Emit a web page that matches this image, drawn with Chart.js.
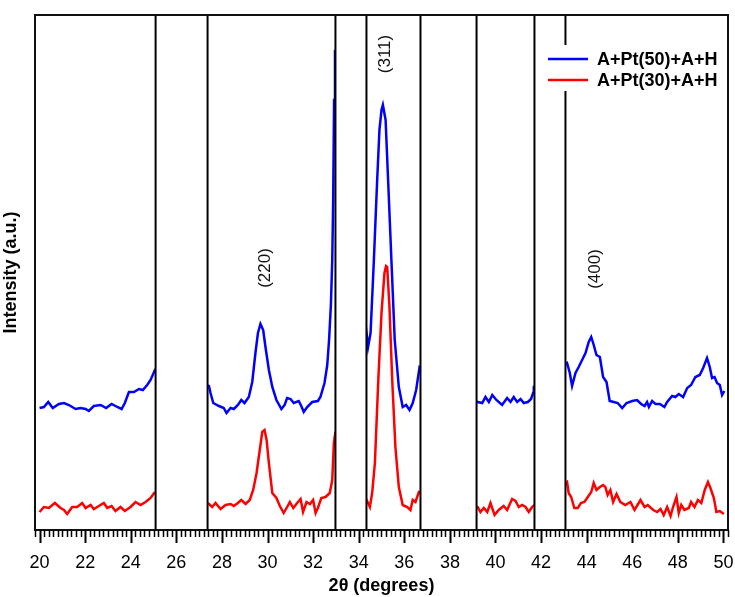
<!DOCTYPE html>
<html>
<head>
<meta charset="utf-8">
<script src="https://cdn.jsdelivr.net/npm/chart.js@4/dist/chart.umd.min.js"></script>
<style>
  body { margin: 0; background: #fff; }
  #wrap { width: 735px; height: 597px; }
</style>
</head>
<body>
<div id="wrap"><canvas id="xrd"></canvas></div>
<script>
// 2-theta positions and intensities (a.u.)
var blueAngle = [20.0,20.19,20.38,20.58,20.85,21.07,21.29,21.58,21.80,22.02,22.16,22.38,22.68,22.92,23.16,23.41,23.60,23.74,23.92,24.14,24.36,24.53,24.72,24.87,25.06,
  27.43,27.50,27.62,27.87,28.08,28.20,28.38,28.52,28.70,28.85,28.99,29.18,29.33,29.47,29.58,29.69,29.81,29.91,30.06,30.21,30.39,30.61,30.75,30.86,31.01,31.15,31.37,31.48,31.59,31.74,31.96,32.21,32.32,32.50,32.62,32.70,32.78,32.84,32.88,32.92,32.96,
  34.41,34.52,34.66,34.81,34.91,35.0,35.06,35.18,35.29,35.44,35.58,35.76,35.93,36.08,36.23,36.37,36.52,36.67,
  39.22,39.42,39.56,39.71,39.86,40.04,40.29,40.51,40.66,40.80,40.95,41.10,41.24,41.42,41.56,41.65,41.68,
  43.14,43.26,43.36,43.51,43.65,43.80,43.95,44.09,44.20,44.31,44.43,44.58,44.72,44.87,45.01,45.19,45.36,45.56,45.75,46.0,46.21,46.39,46.54,46.65,46.73,46.87,47.02,47.21,47.41,47.53,47.75,47.89,48.04,48.23,48.41,48.58,48.77,48.96,49.11,49.28,49.40,49.50,49.61,49.72,49.84,49.94,50.04];
var blueIntensity = [122,123,128,122,126,127,125,121,122,121,119,124,125,122,126,123,121,127,138,138,141,140,145,150,160,
  144,137,127,124,122,117,122,121,125,130,127,133,148,177,197,206,200,183,160,143,130,121,125,132,131,127,129,124,118,123,128,129,133,147,165,190,225,270,330,430,480,
  183,197,267,350,400,420,425,410,350,267,190,143,123,125,120,127,140,163,
  128,127,133,128,135,130,125,132,128,133,128,131,127,128,131,137,143,
  167,157,144,157,163,170,177,188,193,185,175,173,153,148,129,128,127,122,127,129,130,126,124,128,123,129,126,126,123,128,134,133,136,133,142,145,153,155,162,172,163,152,153,147,145,135,139];

var redAngle = [20.0,20.19,20.41,20.67,20.92,21.07,21.21,21.43,21.65,21.87,22.02,22.24,22.38,22.60,22.82,22.97,23.16,23.33,23.55,23.74,23.99,24.21,24.43,24.65,24.87,25.03,
  27.43,27.57,27.72,27.94,28.16,28.38,28.52,28.70,28.85,29.04,29.22,29.37,29.52,29.66,29.77,29.87,29.96,30.06,30.21,30.39,30.54,30.71,30.86,30.98,31.13,31.30,31.45,31.56,31.71,31.86,32.0,32.11,32.21,32.36,32.54,32.73,32.84,32.91,32.96,
  34.41,34.49,34.59,34.71,34.86,35.0,35.13,35.20,35.25,35.35,35.47,35.61,35.76,35.93,36.13,36.27,36.37,36.49,36.64,
  39.22,39.34,39.49,39.64,39.78,39.96,40.14,40.36,40.51,40.73,40.88,41.02,41.17,41.32,41.46,41.61,
  43.14,43.21,43.32,43.46,43.61,43.75,43.90,44.02,44.20,44.31,44.43,44.58,44.72,44.82,44.92,45.04,45.16,45.31,45.48,45.70,45.92,46.10,46.36,46.54,46.68,46.92,47.09,47.24,47.38,47.53,47.68,47.79,47.94,48.04,48.15,48.29,48.48,48.58,48.73,48.88,49.03,49.18,49.32,49.43,49.58,49.69,49.84,50.02];
var redIntensity = [18,23,22,27,22,20,16,23,23,27,22,25,21,24,27,22,24,19,23,19,23,28,25,28,32,37,
  26,23,27,21,25,26,24,27,30,26,30,40,57,80,98,100,90,67,37,32,24,17,23,28,22,27,31,18,28,26,30,17,22,32,33,37,50,87,95,
  27,23,37,67,150,217,257,264,263,223,150,83,43,25,23,20,30,28,38,
  23,18,22,18,27,15,20,24,20,31,29,23,25,23,18,23,
  48,37,33,22,22,27,28,32,38,47,40,43,45,43,35,40,28,36,28,25,28,20,30,23,25,20,18,21,15,23,14,23,33,17,25,20,22,28,23,30,27,40,48,42,32,18,19,16];

var seriesNames = ['A+Pt(50)+A+H', 'A+Pt(30)+A+H'];

// regions blanked out by the broken-axis boxes
var bandStart = [25.09, 32.98, 36.71, 41.71];
var bandEnd   = [27.37, 34.34, 39.17, 43.07];

// reflection labels
var peakLabels = ['(220)', '(311)', '(400)'];
var peakAngle  = [29.91, 35.18, 44.39];
var peakLevel  = [262, 476, 261];

function toPoints(xs, ys) {
  return xs.map(function (v, i) { return {x: v, y: ys[i]}; });
}

function isMajor(v) {
  return Math.abs(v / 2 - Math.round(v / 2)) < 1e-6;
}
function onGrid(v) {
  return Math.abs(v * 5 - Math.round(v * 5)) < 1e-6;
}

var xrdDecor = {
  id: 'xrdDecor',
  afterDatasetsDraw: function (chart) {
    var ctx = chart.ctx, a = chart.chartArea, x = chart.scales.x, y = chart.scales.y;
    ctx.save();

    // white boxes with black sides
    ctx.lineWidth = 2;
    ctx.strokeStyle = '#000';
    for (var i = 0; i < bandStart.length; i++) {
      var l = x.getPixelForValue(bandStart[i]), r = x.getPixelForValue(bandEnd[i]);
      ctx.fillStyle = '#fff';
      ctx.fillRect(l, a.top, r - l, a.bottom - a.top);
      ctx.beginPath();
      ctx.moveTo(l, a.top); ctx.lineTo(l, a.bottom);
      ctx.moveTo(r, a.top); ctx.lineTo(r, a.bottom);
      ctx.stroke();
    }

    // frame
    ctx.strokeStyle = '#111';
    ctx.strokeRect(a.left, a.top, a.right - a.left, a.bottom - a.top);

    // tick marks, major every 2, minor every 0.2
    ctx.strokeStyle = '#000';
    x.ticks.forEach(function (t) {
      if (!onGrid(t.value)) return;
      var px = Math.round(x.getPixelForValue(t.value)) + 0.5;
      var major = isMajor(t.value);
      ctx.lineWidth = major ? 2 : 1.5;
      ctx.beginPath();
      ctx.moveTo(px, a.bottom);
      ctx.lineTo(px, a.bottom + (major ? 13 : 7));
      ctx.stroke();
    });

    // reflection labels, rotated
    ctx.fillStyle = '#111';
    ctx.font = '17px "Liberation Sans", Arial, sans-serif';
    ctx.textAlign = 'center';
    ctx.textBaseline = 'middle';
    for (var k = 0; k < peakLabels.length; k++) {
      ctx.save();
      ctx.translate(x.getPixelForValue(peakAngle[k]), y.getPixelForValue(peakLevel[k]));
      ctx.rotate(-Math.PI / 2);
      ctx.fillText(peakLabels[k], 0, 0);
      ctx.restore();
    }

    // legend
    ctx.fillStyle = '#fff';
    ctx.fillRect(541, 45, 182, 46);
    ctx.font = 'bold 18px "Liberation Sans", Arial, sans-serif';
    ctx.textAlign = 'left';
    chart.data.datasets.forEach(function (ds, j) {
      var ly = 59 + j * 21;
      ctx.strokeStyle = ds.borderColor;
      ctx.lineWidth = 2.5;
      ctx.beginPath();
      ctx.moveTo(548, ly); ctx.lineTo(588, ly);
      ctx.stroke();
      ctx.fillStyle = '#000';
      ctx.fillText(ds.label, 597, ly + 1);
    });

    ctx.restore();
  }
};

Chart.defaults.font.family = '"Liberation Sans", Arial, sans-serif';
Chart.defaults.color = '#000';

new Chart(document.getElementById('xrd').getContext('2d'), {
  type: 'line',
  data: {
    datasets: [{
      label: seriesNames[0],
      data: toPoints(blueAngle, blueIntensity),
      borderColor: '#0000ff',
      borderWidth: 2.5,
      pointRadius: 0,
      tension: 0,
      fill: false
    }, {
      label: seriesNames[1],
      data: toPoints(redAngle, redIntensity),
      borderColor: '#ff0000',
      borderWidth: 2.5,
      pointRadius: 0,
      tension: 0,
      fill: false
    }]
  },
  options: {
    responsive: true,
    maintainAspectRatio: false,
    animation: false,
    layout: { padding: { top: 15, right: 7, left: 0, bottom: 0 } },
    plugins: {
      legend: { display: false },
      tooltip: { enabled: false }
    },
    scales: {
      x: {
        type: 'linear',
        min: 19.8,
        max: 50.2,
        // tick marks are drawn by the plugin; tickLength only reserves room
        grid: { display: false, drawTicks: true, tickLength: 22 },
        border: { display: false },
        ticks: {
          stepSize: 0.2,
          autoSkip: false,
          maxRotation: 0,
          padding: 0,
          font: { size: 18 },
          callback: function (v) { return isMajor(v) ? String(Math.round(v)) : ''; }
        },
        title: {
          display: true,
          text: '2θ (degrees)',
          font: { size: 18, weight: 'bold' },
          padding: { top: 1.8, bottom: 0 }
        }
      },
      y: {
        min: 0,
        max: 515,
        grid: { display: false, drawTicks: false },
        border: { display: false },
        ticks: { display: false },
        title: {
          display: true,
          text: 'Intensity (a.u.)',
          font: { size: 18, weight: 'bold' },
          padding: { top: 0, bottom: 13.4 }
        }
      }
    }
  },
  plugins: [xrdDecor]
});
</script>
</body>
</html>
